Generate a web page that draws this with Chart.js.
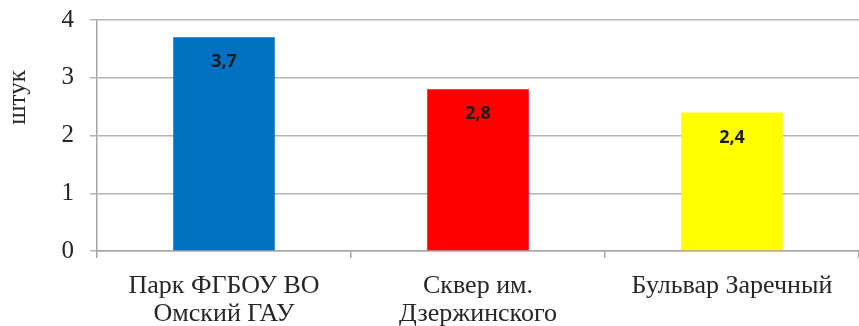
<!DOCTYPE html>
<html>
<head>
<meta charset="utf-8">
<script src="https://cdn.jsdelivr.net/npm/chart.js@4/dist/chart.umd.min.js"></script>
<style>
  html, body { margin: 0; padding: 0; background: #ffffff; }
  #wrap { width: 859px; height: 326px; position: relative; }
</style>
</head>
<body>
<div id="wrap"><canvas id="c"></canvas></div>
<script>
// Среднее количество объектов по участкам
const categories = [
  ['Парк ФГБОУ ВО', 'Омский ГАУ'],
  ['Сквер им.', 'Дзержинского'],
  ['Бульвар Заречный']
];
const values = [3.7, 2.8, 2.4];
const barColors = ['#0070c0', '#ff0000', '#ffff00'];
const yTicks = [0, 1, 2, 3, 4];
const yTitle = 'штук';

const serif = '"Liberation Serif", "Times New Roman", serif';

// Подписи значений внутри столбцов (десятичная запятая)
const valueLabels = {
  id: 'valueLabels',
  afterDatasetsDraw(chart) {
    const ctx = chart.ctx;
    const meta = chart.getDatasetMeta(0);
    ctx.save();
    ctx.font = 'bold 18px "Open Sans", "Liberation Sans", sans-serif';
    ctx.fillStyle = '#1b1b1b';
    ctx.textAlign = 'center';
    ctx.textBaseline = 'middle';
    meta.data.forEach((bar, i) => {
      const txt = String(values[i]).replace('.', ',');
      ctx.fillText(txt, bar.x, bar.y + 25);
    });
    ctx.restore();
  }
};

// Подпись оси Y, смещённая к верхней части оси
const axisTitle = {
  id: 'axisTitle',
  afterDraw(chart) {
    const ctx = chart.ctx;
    const area = chart.chartArea;
    ctx.save();
    ctx.translate(18, area.top + (area.bottom - area.top) * 0.335);
    ctx.rotate(-Math.PI / 2);
    ctx.font = '25px ' + serif;
    ctx.fillStyle = '#262626';
    ctx.textAlign = 'center';
    ctx.textBaseline = 'middle';
    ctx.fillText(yTitle, 0, 0);
    ctx.restore();
  }
};

new Chart(document.getElementById('c'), {
  type: 'bar',
  data: {
    labels: categories,
    datasets: [{
      data: values,
      backgroundColor: barColors,
      borderWidth: 0,
      categoryPercentage: 1.0,
      barPercentage: 0.4
    }]
  },
  options: {
    responsive: true,
    maintainAspectRatio: false,
    animation: false,
    layout: { padding: { top: 20, right: 0, left: 0, bottom: 0 } },
    plugins: {
      legend: { display: false },
      tooltip: { enabled: false }
    },
    scales: {
      x: {
        offset: true,
        grid: {
          offset: true,
          drawOnChartArea: false,
          drawTicks: true,
          tickLength: 7,
          color: '#a6a6a6',
          lineWidth: 1.5
        },
        border: { color: '#a6a6a6', width: 1.5 },
        ticks: {
          color: '#262626',
          font: { family: serif, size: 26, lineHeight: 1.08 },
          padding: 14,
          maxRotation: 0,
          autoSkip: false
        },
        afterFit(scale) {
          scale.height = 75;
          scale.paddingLeft = 0;
          scale.paddingRight = 0;
        }
      },
      y: {
        min: 0,
        max: 4,
        afterBuildTicks(scale) { scale.ticks = yTicks.map(v => ({ value: v })); },
        grid: {
          color: '#b4b4b4',
          lineWidth: 1.5,
          drawTicks: true,
          tickLength: 7
        },
        border: { color: '#a6a6a6', width: 1.5 },
        ticks: {
          color: '#262626',
          font: { family: serif, size: 25 },
          padding: 16
        },
        afterFit(scale) {
          scale.width = 97;
          scale.paddingTop = 0;
          scale.paddingBottom = 0;
        }
      }
    }
  },
  plugins: [valueLabels, axisTitle]
});
</script>
</body>
</html>
